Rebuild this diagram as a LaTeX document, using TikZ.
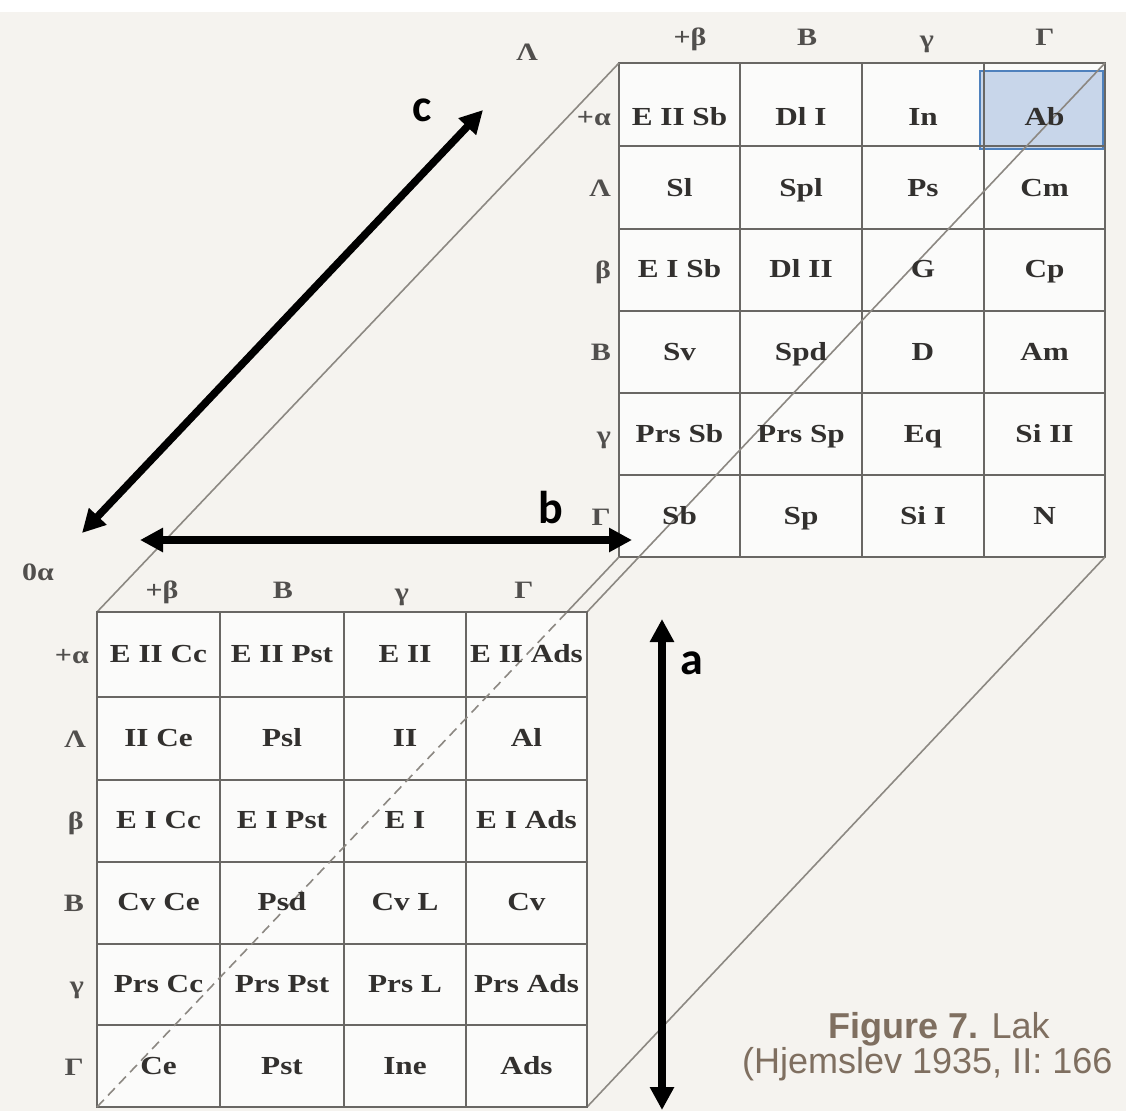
\documentclass[tikz,border=0pt]{standalone}
\usepackage{fontspec}
\setmainfont{Liberation Serif}
\newfontfamily\cellfont{Liberation Serif}[FakeStretch=1.2]
\newfontfamily\capfont{Liberation Sans}
\newfontfamily\axfont{Carlito}
\usetikzlibrary{arrows.meta}
\definecolor{paper}{RGB}{245,243,239}
\definecolor{cellbg}{RGB}{251,251,250}
\definecolor{ink}{RGB}{50,48,46}
\definecolor{gridc}{RGB}{105,103,100}
\definecolor{edgec}{RGB}{140,136,130}
\definecolor{capc}{RGB}{127,111,96}
\definecolor{hlfill}{RGB}{200,214,234}
\definecolor{hlbord}{RGB}{79,129,189}
\tikzset{
  cell/.style={font=\cellfont\bfseries\fontsize{26}{26}\selectfont, text=ink, inner sep=0pt, text height=17pt, text depth=0pt},
  lbl/.style={font=\cellfont\bfseries\fontsize{25}{25}\selectfont, text=ink!85, inner sep=0pt, text height=17pt, text depth=0pt},
  gridline/.style={draw=gridc, line width=1.8pt},
  edgeline/.style={draw=edgec, line width=1.6pt},
  axarrow/.style={line width=7.5pt, {Triangle[width=23pt,length=23pt]}-{Triangle[width=23pt,length=23pt]}},
  axlabel/.style={font=\axfont\bfseries\fontsize{46}{46}\selectfont, inner sep=0pt},
  captxt/.style={font=\capfont\fontsize{36}{36}\selectfont, text=capc, inner sep=0pt}
}
\begin{document}
\begin{tikzpicture}[x=1pt,y=-1pt]
\useasboundingbox (0,0) rectangle (1126,1111);
\fill[paper] (0,0) rectangle (1126,1111);
\fill[white] (0,0) rectangle (1126,12);
% corners
\coordinate (fTL) at (97,612);
\coordinate (fTR) at (587,612);
\coordinate (fBL) at (97,1107);
\coordinate (fBR) at (587,1107);
\coordinate (kTL) at (619,63);
\coordinate (kTR) at (1105,63);
\coordinate (kBL) at (619,557);
\coordinate (kBR) at (1105,557);
\coordinate (hX) at (567,612);
% back grid
\fill[cellbg] (kTL) rectangle (kBR);
\fill[hlfill] (980,71) rectangle (1103,149);
\draw[hlbord, line width=1.2pt] (980,71) rectangle (1103,149);
\draw[gridline] (kTL) rectangle (kBR);
\foreach \x in {740,862,984} \draw[gridline] (\x,63) -- (\x,557);
\foreach \y in {146,229,311,393,475} \draw[gridline] (619,\y) -- (1105,\y);
% cube edges
\draw[edgeline] (fTL) -- (kTL);
\draw[edgeline] (fTR) -- (kTR);
\draw[edgeline] (fBR) -- (kBR);
\draw[edgeline] (hX) -- (kBL);
% front grid
\fill[cellbg] (fTL) rectangle (fBR);
\draw[gridline] (fTL) rectangle (fBR);
\foreach \x in {220,344,466} \draw[gridline] (\x,612) -- (\x,1107);
\foreach \y in {697,780,862,944,1025} \draw[gridline] (97,\y) -- (587,\y);
\draw[edgec, line width=1.6pt, dash pattern=on 10pt off 6pt] (fBL) -- (hX);
% back labels
\node[lbl] (kL0) at (527,52) {Λ};
\node[lbl] (kc1) at (690,37) {+β};
\node[lbl] (kc2) at (807,37) {B};
\node[lbl] (kc3) at (927,39) {γ};
\node[lbl] (kc4) at (1045,37) {Γ};
\node[lbl, anchor=east] (kr1) at (611,117) {+α};
\node[lbl, anchor=east] (kr2) at (611,188) {Λ};
\node[lbl, anchor=east] (kr3) at (611,270) {β};
\node[lbl, anchor=east] (kr4) at (611,352) {B};
\node[lbl, anchor=east] (kr5) at (611,435) {γ};
\node[lbl, anchor=east] (kr6) at (611,517) {Γ};
% back cells
\node[cell] (k11) at (679.5,117) {E II Sb};
\node[cell] (k12) at (801,117) {Dl I};
\node[cell] (k13) at (923,117) {In};
\node[cell] (k14) at (1044.5,117) {Ab};
\node[cell] (k21) at (679.5,188) {Sl};
\node[cell] (k22) at (801,188) {Spl};
\node[cell] (k23) at (923,188) {Ps};
\node[cell] (k24) at (1044.5,188) {Cm};
\node[cell] (k31) at (679.5,269) {E I Sb};
\node[cell] (k32) at (801,269) {Dl II};
\node[cell] (k33) at (923,269) {G};
\node[cell] (k34) at (1044.5,269) {Cp};
\node[cell] (k41) at (679.5,352) {Sv};
\node[cell] (k42) at (801,352) {Spd};
\node[cell] (k43) at (923,352) {D};
\node[cell] (k44) at (1044.5,352) {Am};
\node[cell] (k51) at (679.5,434) {Prs Sb};
\node[cell] (k52) at (801,434) {Prs Sp};
\node[cell] (k53) at (923,434) {Eq};
\node[cell] (k54) at (1044.5,434) {Si II};
\node[cell] (k61) at (679.5,516) {Sb};
\node[cell] (k62) at (801,516) {Sp};
\node[cell] (k63) at (923,516) {Si I};
\node[cell] (k64) at (1044.5,516) {N};
% front labels
\node[lbl] (f0) at (38,572) {0α};
\node[lbl] (fc1) at (162,590) {+β};
\node[lbl] (fc2) at (283,590) {B};
\node[lbl] (fc3) at (402,592) {γ};
\node[lbl] (fc4) at (524,590) {Γ};
\node[lbl, anchor=east] (fr1) at (89,655) {+α};
\node[lbl, anchor=east] (fr2) at (86,739) {Λ};
\node[lbl, anchor=east] (fr3) at (84,821) {β};
\node[lbl, anchor=east] (fr4) at (84,903) {B};
\node[lbl, anchor=east] (fr5) at (84,985) {γ};
\node[lbl, anchor=east] (fr6) at (84,1067) {Γ};
% front cells
\node[cell] (f11) at (158.5,654) {E II Cc};
\node[cell] (f12) at (282,654) {E II Pst};
\node[cell] (f13) at (405,654) {E II};
\node[cell] (f14) at (526.5,654) {E II Ads};
\node[cell] (f21) at (158.5,738) {II Ce};
\node[cell] (f22) at (282,738) {Psl};
\node[cell] (f23) at (405,738) {II};
\node[cell] (f24) at (526.5,738) {Al};
\node[cell] (f31) at (158.5,820) {E I Cc};
\node[cell] (f32) at (282,820) {E I Pst};
\node[cell] (f33) at (405,820) {E I};
\node[cell] (f34) at (526.5,820) {E I Ads};
\node[cell] (f41) at (158.5,902) {Cv Ce};
\node[cell] (f42) at (282,902) {Psd};
\node[cell] (f43) at (405,902) {Cv L};
\node[cell] (f44) at (526.5,902) {Cv};
\node[cell] (f51) at (158.5,984) {Prs Cc};
\node[cell] (f52) at (282,984) {Prs Pst};
\node[cell] (f53) at (405,984) {Prs L};
\node[cell] (f54) at (526.5,984) {Prs Ads};
\node[cell] (f61) at (158.5,1066) {Ce};
\node[cell] (f62) at (282,1066) {Pst};
\node[cell] (f63) at (405,1066) {Ine};
\node[cell] (f64) at (526.5,1066) {Ads};
% axis arrows
\coordinate (cA) at (82,533);
\coordinate (cB) at (483,110);
\coordinate (bA) at (140,540);
\coordinate (bB) at (632,540);
\coordinate (aA) at (662,619);
\coordinate (aB) at (662,1110);
\draw[axarrow] (cA) -- (cB);
\draw[axarrow] (bA) -- (bB);
\draw[axarrow] (aA) -- (aB);
\node[axlabel] (lc) at (422,110) {c};
\node[axlabel] (lb) at (551,508) {b};
\node[axlabel] (la) at (692,663) {a};
% caption
\node[captxt, anchor=base west] (cap1) at (828,1038) {\bfseries Figure 7.\mdseries{} Lak};
\node[captxt, anchor=base west] (cap2) at (742,1073) {(Hjemslev 1935, II: 166};
\end{tikzpicture}
\end{document}
